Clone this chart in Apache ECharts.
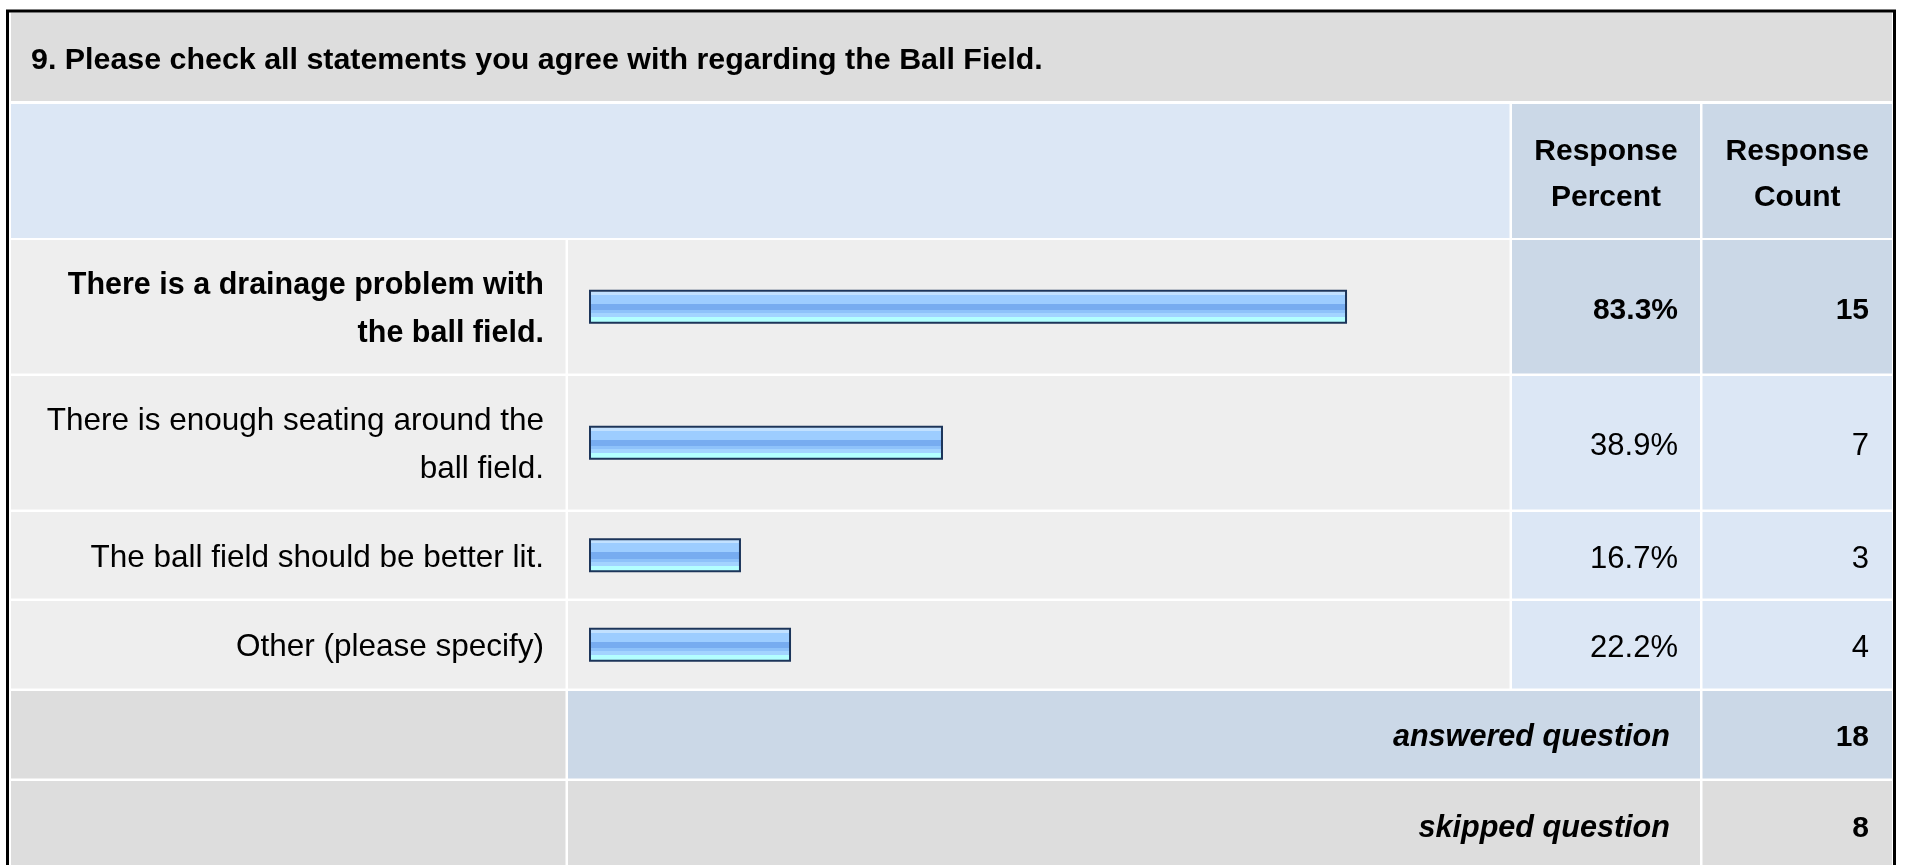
<!DOCTYPE html>
<html>
<head>
    <meta charset="utf-8">
    <title>Ball Field</title>
    <style>
        html,body,#main{
            height: 100%;
            width: 100%;
            padding: 0;
            margin: 0;
            background: #fff;
        }
    </style>
</head>
<body>
    <div id="main"></div>
    <script src="https://cdn.jsdelivr.net/npm/echarts@6/dist/echarts.min.js"></script>
    <script>
        var title = '9. Please check all statements you agree with regarding the Ball Field.';
        var headers = ['Response\nPercent', 'Response\nCount'];
        var categories = [
            'There is a drainage problem with the ball field.',
            'There is enough seating around the ball field.',
            'The ball field should be better lit.',
            'Other (please specify)'
        ];
        var percents = [83.3, 38.9, 16.7, 22.2];
        var counts = [15, 7, 3, 4];
        var summaryLabels = ['answered question', 'skipped question'];
        var summaryCounts = [18, 8];

        // table layout (px)
        var FONT = '"Liberation Sans", Arial, Helvetica, sans-serif';
        var cols = [[11, 565.5], [568, 1509.5], [1512, 1700], [1702.5, 1892]];
        var titleRow = [12.5, 101];
        var headRow = [104, 238];
        var rows = [[240, 373.5], [376, 509.5], [512, 598.5], [601, 688.5]];
        var sumRows = [[691, 778.5], [781, 870]];
        var barLeft = 589, barFull = 910;

        var GRAY = '#dddddd', LIGHT = '#eeeeee', BLUE = '#dce7f5', DBLUE = '#cbd8e7';

        // row with the most answers is shown bold
        var hiIdx = percents.indexOf(Math.max.apply(null, percents));

        var barColor = new echarts.graphic.LinearGradient(0, 0, 0, 1, [
            {offset: 0, color: '#e2f1ff'}, {offset: 0.06, color: '#e2f1ff'},
            {offset: 0.06, color: '#c2e1ff'}, {offset: 0.14, color: '#c2e1ff'},
            {offset: 0.14, color: '#9dcdff'}, {offset: 0.41, color: '#9dcdff'},
            {offset: 0.41, color: '#77acf0'}, {offset: 0.6, color: '#77acf0'},
            {offset: 0.6, color: '#8ec2fa'}, {offset: 0.69, color: '#8ec2fa'},
            {offset: 0.69, color: '#a3d4ff'}, {offset: 0.81, color: '#a3d4ff'},
            {offset: 0.81, color: '#b3ffff'}, {offset: 1, color: '#b3ffff'}
        ]);

        // word wrap like the html cell does
        var measure = document.createElement('canvas').getContext('2d');
        function wrap(text, size, weight, maxW){
            measure.font = weight + ' ' + size + 'px ' + FONT;
            var words = text.split(' '), lines = [], cur = '';
            words.forEach(function(w){
                var t = cur ? cur + ' ' + w : w;
                if (cur && measure.measureText(t).width > maxW) {
                    lines.push(cur);
                    cur = w;
                } else {
                    cur = t;
                }
            });
            lines.push(cur);
            return lines.join('\n');
        }

        function cell(x0, x1, y0, y1, color){
            return {type: 'rect', z: 0, silent: true,
                shape: {x: x0, y: y0, width: x1 - x0, height: y1 - y0},
                style: {fill: color}};
        }
        function label(text, x, y, align, opt){
            opt = opt || {};
            return {type: 'text', z: 10, silent: true,
                style: {text: text, x: x, y: y,
                    align: align, textAlign: align,
                    verticalAlign: 'middle', textVerticalAlign: 'middle',
                    fontSize: opt.size || 31, fontWeight: opt.weight || 'normal',
                    fontStyle: opt.style || 'normal', fontFamily: FONT,
                    lineHeight: opt.lh || 46, fill: '#000'}};
        }
        function mid(r){ return (r[0] + r[1]) / 2; }

        var g = [];
        // title
        g.push(cell(cols[0][0], cols[3][1], titleRow[0], titleRow[1], GRAY));
        g.push(label(title, 31, 61, 'left', {size: 30.4, weight: 'bold'}));
        // header
        g.push(cell(cols[0][0], cols[1][1], headRow[0], headRow[1], BLUE));
        g.push(cell(cols[2][0], cols[2][1], headRow[0], headRow[1], DBLUE));
        g.push(cell(cols[3][0], cols[3][1], headRow[0], headRow[1], DBLUE));
        g.push(label(headers[0], (cols[2][0] + cols[2][1]) / 2, mid(headRow) + 4, 'center', {size: 30, weight: 'bold'}));
        g.push(label(headers[1], (cols[3][0] + cols[3][1]) / 2, mid(headRow) + 4, 'center', {size: 30, weight: 'bold'}));
        // answer rows
        rows.forEach(function(r, i){
            var hi = i === hiIdx;
            var opt = hi ? {size: 30, weight: 'bold'} : {size: 31};
            g.push(cell(cols[0][0], cols[0][1], r[0], r[1], LIGHT));
            g.push(cell(cols[1][0], cols[1][1], r[0], r[1], LIGHT));
            g.push(cell(cols[2][0], cols[2][1], r[0], r[1], hi ? DBLUE : BLUE));
            g.push(cell(cols[3][0], cols[3][1], r[0], r[1], hi ? DBLUE : BLUE));
            // statement text, wrapped inside the first column
            var size = hi ? 30.5 : 31.5, weight = hi ? 'bold' : 'normal';
            g.push(label(wrap(categories[i], size, weight, 505), 544, mid(r) + 3, 'right',
                {size: size, weight: weight, lh: 48}));
            g.push(label(percents[i].toFixed(1) + '%', 1678, mid(r) + 4, 'right', opt));
            g.push(label(String(counts[i]), 1869, mid(r) + 4, 'right', opt));
        });
        // summary rows
        sumRows.forEach(function(r, i){
            var c = i === 0 ? DBLUE : GRAY;
            g.push(cell(cols[0][0], cols[0][1], r[0], r[1], GRAY));
            g.push(cell(cols[1][0], cols[2][1], r[0], r[1], c));
            g.push(cell(cols[3][0], cols[3][1], r[0], r[1], c));
            g.push(label(summaryLabels[i], 1670, mid(r) + 3, 'right', {size: 30.6, weight: 'bold', style: 'italic'}));
            g.push(label(String(summaryCounts[i]), 1869, mid(r) + 3, 'right', {size: 30, weight: 'bold'}));
        });
        // outer frame
        g.push({type: 'rect', z: 20, silent: true,
            shape: {x: 7.5, y: 11, width: 1887, height: 900},
            style: {fill: null, stroke: '#000', lineWidth: 3}});

        // one small grid per table row, bars go through each grid's axes
        var grids = [], xAxes = [], yAxes = [], series = [];
        rows.forEach(function(r, i){
            grids.push({left: barLeft, width: barFull, top: r[0], height: r[1] - r[0]});
            xAxes.push({type: 'value', gridIndex: i, min: 0, max: 100, show: false});
            yAxes.push({
                type: 'category', gridIndex: i, data: [categories[i]],
                axisLine: {show: false}, axisTick: {show: false},
                splitLine: {show: false}, axisLabel: {show: false}
            });
            series.push({
                type: 'bar', xAxisIndex: i, yAxisIndex: i, z: 5,
                data: [percents[i]], barWidth: 34, silent: true,
                itemStyle: {color: barColor, borderColor: '#1c355a', borderWidth: 2}
            });
        });

        var chart = echarts.init(document.getElementById('main'));
        chart.setOption({
            animation: false,
            backgroundColor: '#fff',
            graphic: {elements: g},
            grid: grids,
            xAxis: xAxes,
            yAxis: yAxes,
            series: series
        });
    </script>
</body>
</html>
